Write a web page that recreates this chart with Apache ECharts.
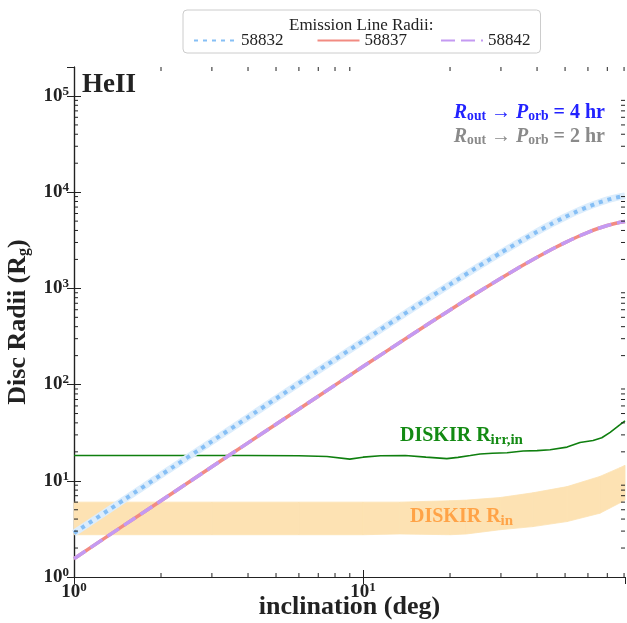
<html>
<head>
    <meta charset="utf-8" />
    <title>HeII disc radii</title>
    <script src="https://cdn.jsdelivr.net/npm/echarts@6.0.0/dist/echarts.min.js"></script>
    <style>
        body { margin: 0; background: #fff; }
        #chart { width: 627px; height: 623px; }
    </style>
</head>
<body>
<div id="chart"></div>
<script type="text/javascript">
    // inclination grid (deg) for the emission line radii curves
    var incl = [1, 1.5, 2, 3, 4, 5, 7, 10, 15, 20, 25, 30, 35, 40, 45, 50, 55, 60, 65, 70, 75, 80.6];
    var r58832 = [2.86, 6.44, 11.5, 25.7, 45.7, 71.4, 140, 283, 630, 1100, 1680, 2350, 3090, 3880, 4700, 5520, 6310, 7050, 7720, 8300, 8770, 9140];
    var r58837 = [1.55, 3.50, 6.21, 13.97, 24.8, 38.7, 75.7, 154, 342, 597, 911, 1275, 1678, 2107, 2550, 2993, 3422, 3825, 4189, 4503, 4760, 4960];
    var r58842 = [1.55, 3.50, 6.21, 13.97, 24.8, 38.7, 75.7, 154, 342, 597, 911, 1275, 1678, 2107, 2550, 2993, 3422, 3825, 4189, 4503, 4760, 4960];

    // DISKIR irradiation radius
    var irrIncl = [1, 2, 4, 6, 7.5, 9.0, 10, 11.5, 14, 16.5, 19.5, 21.3, 23.5, 25.4, 28, 31.5, 35.8, 40, 44.4, 50.8, 56.3, 62.5, 67, 71.6, 77.5, 80.6];
    var irrR = [18.3, 18.3, 18.3, 18.2, 17.9, 16.8, 17.6, 18.2, 18.3, 17.6, 17.0, 17.5, 18.3, 19.0, 19.3, 19.6, 20.4, 20.6, 21.0, 22.4, 25.0, 26.2, 28.0, 31.9, 38.3, 42.0];

    // DISKIR inner radius band
    var inIncl = [1, 3, 6, 10, 13.4, 20, 22.8, 29.8, 38.7, 50.8, 66, 77.5, 80.6];
    var inUpper = [6.0, 6.0, 6.0, 6.0, 6.0, 6.2, 6.3, 6.7, 7.5, 8.7, 11.1, 13.7, 14.5];
    var inLower = [2.75, 2.75, 2.75, 2.75, 2.8, 2.75, 2.8, 3.1, 3.34, 3.77, 4.6, 5.9, 6.3];

    var xMin = 1, xMax = 80.6, yMin = 1, yMax = 2e5;
    var xMinorTicks = [2, 3, 4, 5, 6, 7, 8, 9, 20, 30, 40, 50, 60, 70, 80];
    var yMinorTicks = [];
    [1, 10, 100, 1000, 10000, 100000].forEach(function (d) {
        [2, 3, 4, 5, 6, 7, 8, 9].forEach(function (k) {
            if (k * d < yMax) yMinorTicks.push(k * d);
        });
    });

    var L = Math.log10;
    var FONT = 'Liberation Serif';
    var AXC = '#222';

    function pairs(xs, ys) {
        return xs.map(function (x, i) { return [L(x), L(ys[i])]; });
    }

    function powLabel(v) {
        if (Math.abs(v - Math.round(v)) > 1e-6) return '';
        return '{b|10}{s|' + Math.round(v) + '}';
    }
    var labelRich = {
        b: { fontFamily: FONT, fontWeight: 'bold', fontSize: 19, color: '#222' },
        s: { fontFamily: FONT, fontWeight: 'bold', fontSize: 13, color: '#222', padding: [0, 0, 9, 0] }
    };

    function minorTickSeries(values, isX) {
        return {
            type: 'custom',
            silent: true,
            clip: false,
            z: 6,
            data: values.map(function (v) { return isX ? [L(v), 1] : [1, L(v)]; }),
            renderItem: function (params, api) {
                var cs = params.coordSys;
                var p = api.coord([api.value(0), api.value(1)]);
                var st = { stroke: AXC, lineWidth: 1 };
                if (isX) {
                    return { type: 'group', children: [
                        { type: 'line', shape: { x1: p[0], y1: cs.y + cs.height, x2: p[0], y2: cs.y + cs.height - 4 }, style: st },
                        { type: 'line', shape: { x1: p[0], y1: cs.y, x2: p[0], y2: cs.y + 4 }, style: st }
                    ]};
                }
                return { type: 'group', children: [
                    { type: 'line', shape: { x1: cs.x, y1: p[1], x2: cs.x + 4, y2: p[1] }, style: st },
                    { type: 'line', shape: { x1: cs.x + cs.width, y1: p[1], x2: cs.x + cs.width - 4, y2: p[1] }, style: st }
                ]};
            }
        };
    }

    var chart = echarts.init(document.getElementById('chart'));

    var baseAxis = {
        type: 'value',
        axisLine: { show: true, lineStyle: { color: AXC, width: 1.2 } },
        axisTick: { show: true, inside: true, length: 7, lineStyle: { color: AXC } },
        splitLine: { show: false }
    };

    function noteRich(color, size) {
        return {
            i: { fontFamily: FONT, fontWeight: 'bold', fontStyle: 'italic', fontSize: size, fill: color },
            u: { fontFamily: FONT, fontWeight: 'bold', fontSize: size * 0.68, fill: color, padding: [7, 0, 0, 0] },
            n: { fontFamily: FONT, fontWeight: 'bold', fontSize: size, fill: color }
        };
    }

    function diskirRich(color) {
        return {
            a: { fontFamily: FONT, fontWeight: 'bold', fontSize: 20, fill: color },
            s: { fontFamily: FONT, fontWeight: 'bold', fontSize: 15, fill: color, padding: [8, 0, 0, 0] }
        };
    }

    var option = {
        animation: false,
        backgroundColor: '#fff',
        title: {
            text: 'Emission Line Radii:',
            left: 284,
            top: 12,
            textStyle: { fontFamily: FONT, fontWeight: 'normal', fontSize: 17, color: '#222' }
        },
        legend: {
            data: ['58832', '58837', '58842'],
            left: 183,
            top: 10,
            padding: [22, 10, 4, 10],
            borderColor: '#ccc',
            borderWidth: 1,
            borderRadius: 4,
            itemWidth: 42,
            itemHeight: 12,
            itemGap: 33,
            itemStyle: { opacity: 0 },
            textStyle: { fontFamily: FONT, fontSize: 17, color: '#222' }
        },
        grid: { left: 74, right: 2, top: 67, bottom: 46, outerBoundsMode: 'none', containLabel: false },
        xAxis: [
            Object.assign({}, baseAxis, {
                min: L(xMin), max: L(xMax), interval: 1,
                name: 'inclination (deg)',
                nameLocation: 'middle',
                nameGap: 17,
                nameMoveOverlap: false,
                nameTextStyle: { fontFamily: FONT, fontWeight: 'bold', fontSize: 26, color: '#222' },
                axisLabel: { formatter: powLabel, rich: labelRich, margin: 4, showMaxLabel: false }
            }),
            Object.assign({}, baseAxis, {
                position: 'top',
                min: L(xMin), max: L(xMax), interval: 1,
                axisLabel: { show: false }
            })
        ],
        yAxis: [
            Object.assign({}, baseAxis, {
                min: L(yMin), max: L(yMax), interval: 1,
                name: '{a|Disc Radii (R}{s|g}{a|)}',
                nameLocation: 'middle',
                nameGap: 42,
                nameRotate: 90,
                nameTextStyle: {
                    rich: {
                        a: { fontFamily: FONT, fontWeight: 'bold', fontSize: 26, color: '#222' },
                        s: { fontFamily: FONT, fontWeight: 'bold', fontSize: 16, color: '#222', padding: [11, 0, 0, 0] }
                    }
                },
                axisLabel: { formatter: powLabel, rich: labelRich, margin: 5, showMaxLabel: false }
            }),
            Object.assign({}, baseAxis, {
                position: 'right',
                min: L(yMin), max: L(yMax), interval: 1,
                axisLabel: { show: false }
            })
        ],
        graphic: [
            {
                type: 'text', left: 82, top: 72, z: 100,
                style: { text: 'HeII', fontFamily: FONT, fontWeight: 'bold', fontSize: 27, fill: '#222' }
            },
            {
                type: 'text', right: 22, top: 103, z: 100,
                style: { text: '{i|R}{u|out}{n| \u2192 }{i|P}{u|orb}{n| = 4 hr}', rich: noteRich('#2222ff', 20) }
            },
            {
                type: 'text', right: 22, top: 127, z: 100,
                style: { text: '{i|R}{u|out}{n| \u2192 }{i|P}{u|orb}{n| = 2 hr}', rich: noteRich('#8a8a8a', 20) }
            },
            {
                type: 'text', left: 400, top: 426, z: 100,
                style: { text: '{a|DISKIR R}{s|irr,in}', rich: diskirRich('#138a13') }
            },
            {
                type: 'text', left: 410, top: 507, z: 100,
                style: { text: '{a|DISKIR R}{s|in}', rich: diskirRich('#ffa347') }
            }
        ],
        series: [
            {
                // filled band between lower and upper inner radius
                type: 'custom', silent: true, z: 1,
                data: inIncl.map(function (x, i) { return [L(x), L(inLower[i]), L(inUpper[i])]; }),
                renderItem: function (params, api) {
                    var i = params.dataIndex;
                    if (i >= inIncl.length - 1) return null;
                    var a = L(inIncl[i]), b = L(inIncl[i + 1]);
                    var pts = [
                        api.coord([a, L(inLower[i])]),
                        api.coord([b, L(inLower[i + 1])]),
                        api.coord([b, L(inUpper[i + 1])]),
                        api.coord([a, L(inUpper[i])])
                    ];
                    return { type: 'polygon', shape: { points: pts }, style: { fill: '#fde2b3', stroke: '#fde2b3', lineWidth: 0.8 } };
                }
            },
            {
                name: 'irr', type: 'line', symbol: 'none', silent: true, z: 2,
                data: pairs(irrIncl, irrR),
                lineStyle: { color: '#0f7f0f', width: 1.6 }
            },
            {
                name: 'halo', type: 'line', symbol: 'none', silent: true, smooth: 0.2, z: 2,
                data: pairs(incl, r58832),
                lineStyle: { color: '#dcedfc', width: 7 }
            },
            {
                name: '58832', type: 'line', symbol: 'none', smooth: 0.2, z: 3,
                data: pairs(incl, r58832),
                itemStyle: { color: '#86bff5' },
                lineStyle: { color: '#86bff5', width: 4, type: [4, 5] }
            },
            {
                name: '58837', type: 'line', symbol: 'none', smooth: 0.2, z: 3,
                data: pairs(incl, r58837),
                itemStyle: { color: '#f28b82' },
                lineStyle: { color: '#f28b82', width: 3.5 }
            },
            {
                name: '58842', type: 'line', symbol: 'none', smooth: 0.2, z: 3,
                data: pairs(incl, r58842),
                itemStyle: { color: '#c49af2' },
                lineStyle: { color: '#c49af2', width: 3.5, type: [14, 6] }
            },
            minorTickSeries(xMinorTicks, true),
            minorTickSeries(yMinorTicks, false)
        ]
    };
    chart.setOption(option);
</script>
</body>
</html>
